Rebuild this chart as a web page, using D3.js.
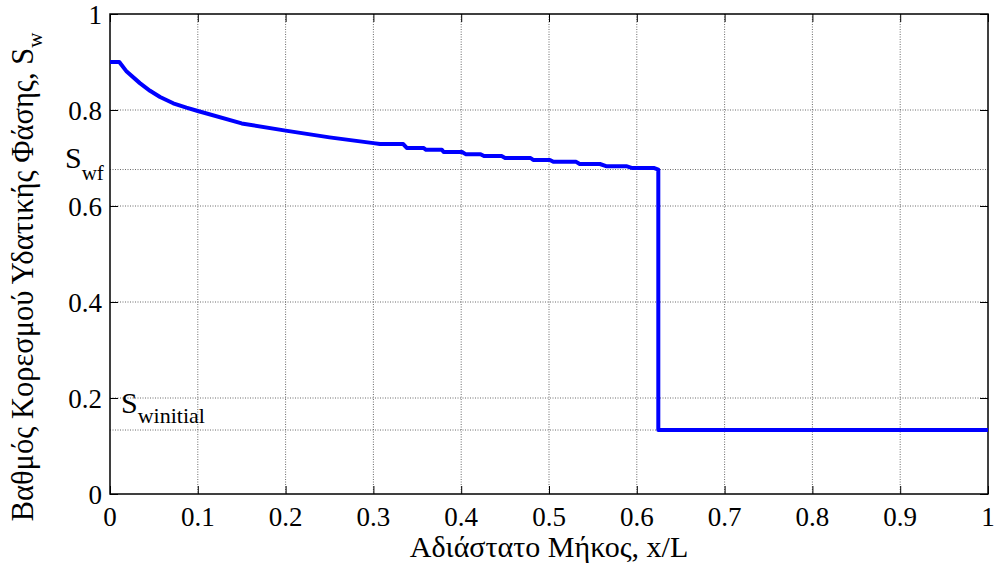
<!DOCTYPE html>
<html>
<head>
<meta charset="utf-8">
<script src="https://cdn.jsdelivr.net/npm/d3@7"></script>
<style>
  body { margin: 0; background: #fff; }
  svg { display: block; }
</style>
</head>
<body>
<svg id="chart" width="995" height="572" font-family="Liberation Serif"></svg>
<script>
// ---- data ----
const xPos = [0, 0.0106, 0.019, 0.034, 0.0456, 0.057, 0.072, 0.087, 0.1, 0.15, 0.2, 0.25, 0.3,
  0.3075, 0.334, 0.338, 0.357, 0.360, 0.378, 0.380, 0.401, 0.405, 0.422, 0.426, 0.446,
  0.450, 0.479, 0.482, 0.501, 0.505, 0.531, 0.535, 0.558, 0.565, 0.588, 0.595, 0.620,
  0.6245, 0.6245, 1];
const sw = [0.9, 0.9, 0.880, 0.856, 0.840, 0.827, 0.814, 0.805, 0.798, 0.772, 0.757, 0.743, 0.731,
  0.729, 0.729, 0.721, 0.721, 0.717, 0.717, 0.7125, 0.7125, 0.708, 0.708, 0.704, 0.704,
  0.700, 0.700, 0.696, 0.696, 0.692, 0.692, 0.6875, 0.6875, 0.683, 0.683, 0.679, 0.679,
  0.676, 0.1333, 0.1333];
const xTicks = [0, 0.1, 0.2, 0.3, 0.4, 0.5, 0.6, 0.7, 0.8, 0.9, 1];
const xTickLabels = ["0", "0.1", "0.2", "0.3", "0.4", "0.5", "0.6", "0.7", "0.8", "0.9", "1"];
const yTicks = [0, 0.2, 0.4, 0.6, 0.8, 1];
const yTickLabels = ["0", "0.2", "0.4", "0.6", "0.8", "1"];
const swfValue = 0.676;
const swInitValue = 0.1333;
const extraGridY = [swInitValue, swfValue];
const xLabel = "Αδιάστατο Μήκος, x/L";
const yLabelMain = "Βαθμός Κορεσμού Υδατικής Φάσης, S";
const yLabelSub = "w";

// ---- layout ----
const FONT = "Liberation Serif";
const svg = d3.select("#chart");
const L = 110, R = 988, T = 14, B = 494;
const x = d3.scaleLinear().domain([0, 1]).range([L, R]);
const y = d3.scaleLinear().domain([0, 1]).range([B, T]);

// grid
const grid = svg.append("g").attr("stroke", "#444").attr("stroke-width", 0.8).attr("stroke-dasharray", "1,1.5");
grid.selectAll(".gx").data(xTicks.slice(1, -1)).join("line")
  .attr("x1", d => x(d)).attr("x2", d => x(d)).attr("y1", T).attr("y2", B);
grid.selectAll(".gy").data(yTicks.slice(1, -1).concat(extraGridY)).join("line")
  .attr("x1", L).attr("x2", R).attr("y1", d => y(d)).attr("y2", d => y(d));

// axes with inward ticks (tick marks from d3 axes; labels drawn below from the same scales)
const tickLen = 8;
const axB = d3.axisBottom(x).tickValues(xTicks).tickSize(-tickLen).tickFormat("");
const axT = d3.axisTop(x).tickValues(xTicks).tickSize(-tickLen).tickFormat("");
const axLft = d3.axisLeft(y).tickValues(yTicks).tickSize(-tickLen).tickFormat("");
const axRgt = d3.axisRight(y).tickValues(yTicks).tickSize(-tickLen).tickFormat("");

function styleAxis(g) {
  g.select(".domain").remove();
  g.selectAll("text").remove();
  g.selectAll("line").attr("stroke", "#000").attr("stroke-width", 1);
}
svg.append("g").attr("transform", `translate(0,${B})`).call(axB).call(styleAxis);
svg.append("g").attr("transform", `translate(0,${T})`).call(axT).call(styleAxis);
svg.append("g").attr("transform", `translate(${L},0)`).call(axLft).call(styleAxis);
svg.append("g").attr("transform", `translate(${R},0)`).call(axRgt).call(styleAxis);

// tick labels
svg.append("g").selectAll("text").data(xTicks).join("text")
  .attr("x", d => x(d)).attr("y", 526).attr("text-anchor", "middle")
  .attr("font-family", FONT).attr("font-size", 27).attr("fill", "#000")
  .text((d, i) => xTickLabels[i]);
svg.append("g").selectAll("text").data(yTicks).join("text")
  .attr("x", L - 8).attr("y", d => y(d) + 10).attr("text-anchor", "end")
  .attr("font-family", FONT).attr("font-size", 27).attr("fill", "#000")
  .text((d, i) => yTickLabels[i]);

// box
svg.append("rect").attr("x", L).attr("y", T).attr("width", R - L).attr("height", B - T)
  .attr("fill", "none").attr("stroke", "#000").attr("stroke-width", 1.5);

// data line
const pts = xPos.map((d, i) => [d, sw[i]]);
svg.append("path").datum(pts)
  .attr("fill", "none").attr("stroke", "#0000ff").attr("stroke-width", 4)
  .attr("stroke-linejoin", "round")
  .attr("d", d3.line().x(d => x(d[0])).y(d => y(d[1])));

// S_wf label
const swf = svg.append("text").attr("x", 65).attr("y", 168).attr("font-family", FONT).attr("font-size", 30);
swf.append("tspan").text("S");
swf.append("tspan").attr("dy", 12).attr("font-size", 21).text("wf");

// S_winitial label
const swi = svg.append("text").attr("x", 121).attr("y", 413).attr("font-family", FONT).attr("font-size", 30);
swi.append("tspan").text("S");
swi.append("tspan").attr("dy", 10).attr("font-size", 22).text("winitial");

// x label
svg.append("text").attr("x", 549).attr("y", 557).attr("text-anchor", "middle")
  .attr("font-family", FONT).attr("font-size", 30).text(xLabel);

// y label
const yl = svg.append("text").attr("transform", `translate(33,277) rotate(-90)`)
  .attr("text-anchor", "middle").attr("font-family", FONT).attr("font-size", 30.5);
yl.append("tspan").text(yLabelMain);
yl.append("tspan").attr("dy", 9).attr("font-size", 21).text(yLabelSub);
</script>
</body>
</html>
